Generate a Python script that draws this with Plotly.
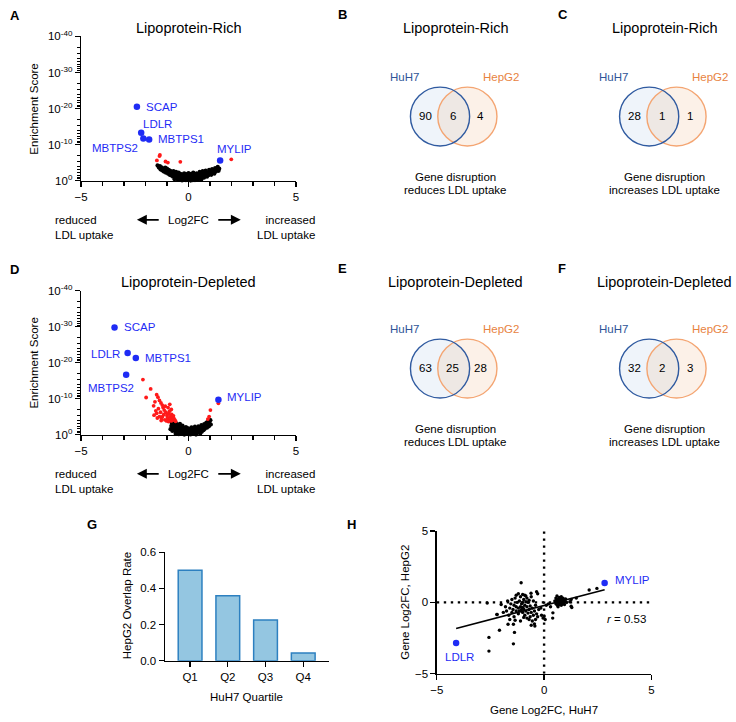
import math
import plotly.graph_objects as go

W, H = 736, 722
FONT = "Liberation Sans, Arial, Helvetica, sans-serif"
HILITE = "#1f2cf5"
RED = "#ff1a1a"

# ---------------- DATA ----------------
# Panel A: Lipoprotein-Rich volcano (x = Log2FC, y = -log10 enrichment score)
a_genes = ["SCAP", "LDLR", "MBTPS2", "MBTPS1", "MYLIP"]
a_gene_x = [-2.4, -2.2, -2.1, -1.83, 1.47]
a_gene_y = [20.5, 13.3, 11.7, 11.4, 5.6]
a_hit_x = [-1.33, -1.35, -1.47, -1.07, -0.96, -0.38, 1.99]
a_hit_y = [7.1, 6.8, 5.6, 5.3, 5.0, 5.2, 5.9]
a_other = [
    (-1.44, 4.2), (-1.38, 3.6), (-1.33, 4.0), (-1.30, 3.1), (-1.25, 3.7), (-1.22, 2.8), (-1.18, 3.3),
    (-1.15, 2.5), (-1.12, 3.0), (-1.08, 3.6), (-1.05, 2.2), (-1.02, 2.9), (-1.0, 3.3), (-0.97, 2.5),
    (-0.95, 1.9), (-0.92, 3.0), (-0.9, 2.2), (-0.88, 1.6), (-0.85, 2.7), (-0.82, 2.0), (-0.8, 1.4),
    (-0.78, 2.4), (-0.75, 1.8), (-0.72, 1.1), (-0.7, 2.6), (-0.68, 1.5), (-0.65, 2.1), (-0.62, 0.9),
    (-0.6, 1.7), (-0.58, 2.4), (-0.55, 1.2), (-0.52, 0.6), (-0.5, 1.9), (-0.48, 1.0), (-0.46, 2.2),
    (-0.44, 0.4), (-0.42, 1.5), (-0.4, 0.8), (-0.38, 1.9), (-0.35, 0.3), (-0.33, 1.2), (-0.3, 0.6),
    (-0.28, 1.7), (-0.25, 0.2), (-0.23, 1.0), (-0.2, 2.0), (-0.18, 0.5), (-0.15, 1.4), (-0.12, 0.1),
    (-0.1, 0.8), (-0.08, 1.8), (-0.05, 0.3), (-0.03, 1.1), (0.0, 0.6), (0.0, 2.1), (0.03, 0.2),
    (0.05, 1.5), (0.08, 0.9), (0.1, 0.4), (0.12, 1.9), (0.15, 0.7), (0.18, 1.2), (0.2, 0.1),
    (0.22, 2.2), (0.25, 0.5), (0.28, 1.6), (0.3, 0.9), (0.33, 0.3), (0.35, 1.3), (0.38, 2.0),
    (0.4, 0.7), (0.42, 1.1), (0.45, 0.2), (0.48, 1.7), (0.5, 0.9), (0.52, 2.4), (0.55, 1.3),
    (0.58, 0.6), (0.6, 1.9), (0.63, 1.0), (0.66, 2.6), (0.7, 1.5), (0.72, 0.8), (0.75, 2.1),
    (0.78, 1.2), (0.8, 2.8), (0.83, 1.7), (0.86, 1.1), (0.9, 2.3), (0.93, 1.5), (0.96, 3.0),
    (1.0, 2.0), (1.03, 2.6), (1.06, 1.6), (1.1, 3.2), (1.13, 2.2), (1.17, 2.8), (1.2, 1.9),
    (1.24, 3.5), (1.28, 2.5), (1.32, 3.0), (1.36, 3.8), (1.4, 2.7), (1.43, 3.3),
    (-0.3, 0.05), (-0.1, 0.3), (0.1, 0.0), (0.3, 0.15), (-0.5, 0.3), (0.6, 0.3), (-0.65, 0.4),
]

# Panel D: Lipoprotein-Depleted volcano
d_genes = ["SCAP", "LDLR", "MBTPS1", "MBTPS2", "MYLIP"]
d_gene_x = [-3.44, -2.83, -2.45, -2.9, 1.39]
d_gene_y = [29.8, 22.7, 21.3, 16.6, 9.7]
d_hits = [
    (-2.12, 15.3), (-1.76, 12.7), (-1.97, 10.3), (-1.48, 11.1), (-1.42, 10.4), (-1.56, 9.1),
    (-1.35, 9.5), (-1.62, 8.0), (-1.28, 8.8), (-1.48, 5.9), (-1.4, 7.2), (-1.22, 8.2),
    (-1.13, 6.8), (-0.87, 8.4), (-0.8, 7.0), (-1.3, 6.2), (-1.21, 5.0), (-1.15, 5.6),
    (-1.1, 4.1), (-1.05, 6.2), (-1.0, 5.3), (-0.98, 4.6), (-0.95, 7.5), (-0.92, 5.8),
    (-0.9, 4.0), (-0.88, 6.5), (-0.85, 5.0), (-0.82, 4.4), (-0.78, 5.6), (-0.75, 4.8),
    (-0.72, 4.0), (-0.7, 5.2), (-0.68, 4.5), (-0.64, 4.1), (-0.6, 3.7), (-1.25, 4.4),
    (-1.35, 5.0), (-1.18, 7.5), (-1.02, 3.8), (-0.93, 3.6), (-0.8, 3.8),
    (-1.52, 6.6), (-1.45, 4.6), (-1.6, 5.4), (-1.08, 7.9), (-1.27, 3.9),
    (1.02, 6.8), (0.96, 5.0), (0.9, 4.3), (1.39, 8.7),
]
d_other = [
    (-0.84, 1.5), (-0.8, 2.4), (-0.78, 3.2), (-0.75, 1.0), (-0.72, 2.0), (-0.7, 2.9), (-0.68, 3.6),
    (-0.65, 1.6), (-0.62, 2.5), (-0.6, 0.8), (-0.58, 3.1), (-0.55, 1.9), (-0.52, 1.2), (-0.5, 2.6),
    (-0.48, 0.5), (-0.46, 1.7), (-0.44, 2.2), (-0.42, 1.0), (-0.4, 3.0), (-0.38, 0.3), (-0.36, 1.4),
    (-0.34, 2.0), (-0.32, 0.7), (-0.3, 1.6), (-0.28, 2.5), (-0.26, 0.2), (-0.24, 1.1), (-0.22, 1.9),
    (-0.2, 0.5), (-0.18, 1.4), (-0.16, 0.1), (-0.14, 0.9), (-0.12, 2.1), (-0.1, 0.4), (-0.08, 1.3),
    (-0.06, 0.7), (-0.04, 1.8), (-0.02, 0.2), (0.0, 1.0), (0.02, 0.5), (0.04, 1.6), (0.06, 0.1),
    (0.08, 0.8), (0.1, 1.3), (0.12, 0.3), (0.14, 2.0), (0.16, 0.6), (0.18, 1.1), (0.2, 0.2),
    (0.22, 1.7), (0.24, 0.9), (0.26, 0.4), (0.28, 1.4), (0.3, 2.2), (0.32, 0.7), (0.34, 1.1),
    (0.36, 0.2), (0.38, 1.8), (0.4, 0.9), (0.42, 1.4), (0.44, 0.5), (0.46, 2.3), (0.48, 1.0),
    (0.5, 1.6), (0.52, 0.6), (0.55, 2.0), (0.58, 1.2), (0.6, 2.6), (0.62, 0.8), (0.65, 1.7),
    (0.68, 2.3), (0.7, 1.2), (0.73, 2.9), (0.76, 1.6), (0.8, 2.2), (0.83, 3.3), (0.86, 1.9),
    (0.9, 2.7), (0.92, 3.8), (0.95, 2.3), (0.98, 3.2), (1.02, 4.0), (1.04, 2.8),
    (-0.45, 0.1), (-0.2, 0.0), (0.1, 0.05), (0.35, 0.0), (0.55, 0.3), (-0.6, 0.2),
]

volcano_titles = ["Lipoprotein-Rich", "Lipoprotein-Depleted"]
y_tick_exponents = [0, -10, -20, -30, -40]

# Venn panels B, C, E, F
venn_letters = ["B", "C", "E", "F"]
venn_titles = ["Lipoprotein-Rich", "Lipoprotein-Rich", "Lipoprotein-Depleted", "Lipoprotein-Depleted"]
venn_huh7_only = [90, 28, 63, 32]
venn_both = [6, 1, 25, 2]
venn_hepg2_only = [4, 1, 28, 3]
venn_effect = ["reduces", "increases", "reduces", "increases"]

# Panel G
quartiles = ["Q1", "Q2", "Q3", "Q4"]
overlap_rate = [0.50, 0.36, 0.225, 0.043]

# Panel H
h_points = [
    (-1.8, -0.3), (-1.75, -0.6), (-1.7, 0.1), (-1.65, -0.9), (-1.6, -0.4), (-1.55, -0.1), (-1.5, -0.7),
    (-1.5, 0.2), (-1.45, -0.5), (-1.4, -1.0), (-1.4, -0.2), (-1.35, 0.3), (-1.3, -0.6), (-1.3, -0.3),
    (-1.25, 0.0), (-1.2, -0.8), (-1.2, -0.4), (-1.15, 0.1), (-1.15, -0.6), (-1.1, -0.3), (-1.1, 0.4),
    (-1.05, -0.5), (-1.05, -0.1), (-1.0, -0.7), (-1.0, 0.0), (-1.0, -0.35), (-0.95, 0.2), (-0.95, -0.45),
    (-0.9, -0.2), (-0.9, 0.5), (-0.9, -0.9), (-0.85, 0.05), (-0.85, -0.6), (-0.8, 0.3), (-0.8, -0.3),
    (-0.8, -1.1), (-0.75, 0.0), (-0.75, -0.75), (-0.7, 0.15), (-0.7, -0.5), (-0.65, -1.0), (-0.65, -0.25),
    (-0.6, -0.7), (-0.6, 0.4), (-0.55, -1.3), (-0.55, -0.4), (-0.5, -0.9), (-0.5, 0.1), (-0.45, -1.5),
    (-0.45, -0.6), (-0.4, -1.2), (-0.4, -0.2), (-0.35, -0.8), (-0.3, -1.0), (-0.3, 0.6), (-0.25, -0.5),
    (-1.3, 0.5), (-1.6, -1.2), (-1.35, -1.25), (-1.2, 0.6), (-1.0, 0.55), (-0.85, 0.45), (-1.1, -1.3),
    (-0.95, -1.05), (-0.7, -1.2), (-2.0, -0.15), (-2.2, -0.85), (-1.9, -0.7),
    (-0.12, -0.9), (-0.05, -1.1), (0.0, -0.95), (0.05, -1.2), (-0.15, -0.4), (0.1, -0.2), (0.2, -0.1),
    (0.3, -0.3), (0.4, -1.1), (0.41, -0.73),
    (0.5, 0.1), (0.55, -0.1), (0.55, 0.3), (0.6, 0.0), (0.6, 0.45), (0.62, -0.2), (0.65, 0.2),
    (0.68, 0.0), (0.7, 0.35), (0.7, -0.15), (0.72, 0.1), (0.75, 0.25), (0.75, -0.05), (0.78, 0.15),
    (0.8, 0.4), (0.8, -0.2), (0.82, 0.05), (0.85, 0.2), (0.85, -0.1), (0.88, 0.3), (0.9, 0.0),
    (0.92, 0.15), (0.95, -0.15), (0.98, 0.1), (1.0, 0.25), (1.05, 0.0), (0.65, -0.3), (0.58, 0.15),
    (-1.07, 1.37), (-2.65, -0.05), (-2.19, -0.85), (-1.68, -1.53), (-1.43, -1.53), (-2.08, -1.95),
    (-1.38, -2.1), (-2.57, -2.45), (-1.43, -2.9), (-2.57, -3.41), (-0.43, -1.65), (-0.35, 0.75),
    (1.26, 0.2), (1.26, -0.27), (1.29, -0.36), (1.5, 0.3), (2.1, 0.87), (2.46, 0.98), (1.2, 0.05),
    (-0.6, -1.6), (-0.61, 0.64),
]
h_genes = ["MYLIP", "LDLR"]
h_gene_x = [2.82, -4.1]
h_gene_y = [1.35, -2.84]
fit_slope = 0.392
fit_intercept = -0.215
r_value = 0.53

# ---------------- helpers ----------------
def px(x):
    return x / W


def py(y):
    return 1 - y / H


annotations = []
shapes = []


def text(x, y, s, size=11.5, color="black", xanchor="center", yanchor="middle", angle=0, align="center"):
    annotations.append(dict(x=px(x), y=py(y), xref="paper", yref="paper", text=s, showarrow=False,
                            xanchor=xanchor, yanchor=yanchor, textangle=angle, align=align,
                            font=dict(family=FONT, size=size, color=color)))


def axis(**kw):
    base = dict(showline=True, linecolor="black", linewidth=1.3, ticks="outside", ticklen=5,
                tickwidth=1.3, tickcolor="black", showgrid=False, zeroline=False, fixedrange=True,
                tickfont=dict(family=FONT, size=11.5, color="black"))
    base.update(kw)
    return base


fig = go.Figure()

# ---------------- Volcano panels A & D ----------------
minor_y = [10 * n + 10 - 10 * math.log10(k) for n in range(4) for k in range(2, 10)]
volc_ticktext = ["10<sup>%d</sup>" % e for e in y_tick_exponents]
volc_tickvals = [-e for e in y_tick_exponents]

a_label_style = {"SCAP": ("left", 7, 0), "LDLR": ("center", 16, 9), "MBTPS2": ("right", -3, -10),
                 "MBTPS1": ("left", 7, 1), "MYLIP": ("center", 14, 11)}
d_label_style = {"SCAP": ("left", 7, 0), "LDLR": ("right", -6, -1), "MBTPS1": ("left", 7, 0),
                 "MBTPS2": ("center", -15, -13), "MYLIP": ("left", 7, 3)}

volcanoes = [
    ("x", "y", [p[0] for p in a_other], [p[1] for p in a_other], a_hit_x, a_hit_y,
     a_genes, a_gene_x, a_gene_y, a_label_style, 0, "A"),
    ("x2", "y2", [p[0] for p in d_other], [p[1] for p in d_other], [p[0] for p in d_hits],
     [p[1] for p in d_hits], d_genes, d_gene_x, d_gene_y, d_label_style, 259, "D"),
]
for i, (xa, ya, ox, oy, hx, hy, gn, gx, gy, lstyle, off, letter) in enumerate(volcanoes):
    fig.add_trace(go.Scatter(x=ox, y=oy, mode="markers", xaxis=xa, yaxis=ya, cliponaxis=False,
                             marker=dict(size=4.2, color="black"), hoverinfo="skip"))
    fig.add_trace(go.Scatter(x=hx, y=hy, mode="markers", xaxis=xa, yaxis=ya, cliponaxis=False,
                             marker=dict(size=3.8, color=RED), hoverinfo="skip"))
    fig.add_trace(go.Scatter(x=gx, y=gy, mode="markers", xaxis=xa, yaxis=ya, cliponaxis=False,
                             marker=dict(size=6.5, color=HILITE), hoverinfo="skip"))
    for g, x, y in zip(gn, gx, gy):
        anc, xs, ys = lstyle[g]
        annotations.append(dict(x=x, y=y, xref=xa, yref=ya, text=g, showarrow=False, xanchor=anc,
                                yanchor="middle", xshift=xs, yshift=ys,
                                font=dict(family=FONT, size=11.5, color=HILITE)))
    text(1, 8 + off, "<b>%s</b>" % letter, size=13, xanchor="left")
    text(184, 20 + off, volcano_titles[i], size=14.5)
    text(27, 103 + off, "Enrichment Score", size=11.5, angle=-90)
    text(46.7, 223.5 + off, "reduced<br>LDL uptake", xanchor="left", align="left")
    text(314, 223.5 + off, "increased<br>LDL uptake", xanchor="right", align="right")
    text(184.3, 216 + off, "Log2FC")
    for head, tail in ((131.7, 155), (237, 213)):
        annotations.append(dict(x=px(head), y=py(216 + off), xref="paper", yref="paper", text="",
                                showarrow=True, ax=tail - head, ay=0, arrowhead=2, arrowsize=1.1,
                                arrowwidth=1.8, arrowcolor="black", standoff=0))

xaxis_volc = dict(range=[-5, 5], tickmode="array", tickvals=[-5, 0, 5],
                  minor=dict(tickmode="array", tickvals=[-4, -3, -2, -1, 1, 2, 3, 4], ticks="outside",
                             ticklen=4, tickwidth=1.1, tickcolor="black", showgrid=False))
yaxis_volc = dict(range=[0, 40], tickmode="array", tickvals=volc_tickvals, ticktext=volc_ticktext,
                  minor=dict(tickmode="array", tickvals=minor_y, ticks="outside", ticklen=3,
                             tickwidth=1, tickcolor="black", showgrid=False))

# ---------------- Venn panels ----------------
R = 30
for i in range(4):
    dx = 212 if i % 2 else 0
    dy = 257 if i >= 2 else 0
    cxa, cxb, cy = 439 + dx, 466.7 + dx, 110.7 + dy
    shapes.append(dict(type="circle", xref="paper", yref="paper", x0=px(cxa - R), x1=px(cxa + R),
                       y0=py(cy + R), y1=py(cy - R), fillcolor="#eff4fa", line=dict(width=0)))
    shapes.append(dict(type="circle", xref="paper", yref="paper", x0=px(cxb - R), x1=px(cxb + R),
                       y0=py(cy + R), y1=py(cy - R), fillcolor="rgba(240,170,120,0.17)",
                       line=dict(color="#f4a572", width=1.4)))
    shapes.append(dict(type="circle", xref="paper", yref="paper", x0=px(cxa - R), x1=px(cxa + R),
                       y0=py(cy + R), y1=py(cy - R), fillcolor="rgba(0,0,0,0)",
                       line=dict(color="#2f5aa0", width=1.4)))
    text(334 + (561 - 338) * (i % 2), 7 + (258.7 if i >= 2 else 0), "<b>%s</b>" % venn_letters[i],
         size=13, xanchor="left")
    text(455 + dx, 20 + (259 if i >= 2 else 0), venn_titles[i], size=14.5)
    text(402.7 + dx, 70 + dy, "HuH7", size=11.5, color="#2f5597")
    text(501 + dx, 70 + dy, "HepG2", size=11.5, color="#e8833f")
    text(424 + dx, 110 + dy, str(venn_huh7_only[i]))
    text(451.7 + dx, 110 + dy, str(venn_both[i]))
    text(480 + dx, 110 + dy, str(venn_hepg2_only[i]))
    text(455 + dx, 172 + dy, "Gene disruption")
    text(455 + dx, 185.7 + dy, "%s LDL uptake" % venn_effect[i])

# ---------------- Panel G ----------------
fig.add_trace(go.Bar(x=list(range(len(quartiles))), y=overlap_rate, xaxis="x3", yaxis="y3", width=0.63,
                     marker=dict(color="#94c6e1", line=dict(color="#2d80c0", width=1.5)),
                     hoverinfo="skip"))
text(86, 526.7, "<b>G</b>", size=13)
text(121.7, 610, "HepG2 Overlap Rate", angle=-90)
text(243, 702.7, "HuH7 Quartile")

# ---------------- Panel H ----------------
hx = [p[0] for p in h_points]
hy = [p[1] for p in h_points]
shapes.append(dict(type="line", xref="x4", yref="y4", x0=-5, x1=5, y0=0, y1=0,
                   line=dict(color="black", width=2.4, dash="2.4px,4.6px")))
shapes.append(dict(type="line", xref="x4", yref="y4", x0=0, x1=0, y0=-5, y1=5,
                   line=dict(color="black", width=2.4, dash="2.4px,4.6px")))
fig.add_trace(go.Scatter(x=hx, y=hy, mode="markers", xaxis="x4", yaxis="y4", cliponaxis=False,
                         marker=dict(size=3.4, color="black"), hoverinfo="skip"))
all_hx = hx + h_gene_x
fit_x = [min(all_hx), max(all_hx)]
fit_y = [fit_intercept + fit_slope * v for v in fit_x]
fig.add_trace(go.Scatter(x=fit_x, y=fit_y, mode="lines", xaxis="x4", yaxis="y4",
                         line=dict(color="black", width=1.5), hoverinfo="skip"))
fig.add_trace(go.Scatter(x=h_gene_x, y=h_gene_y, mode="markers", xaxis="x4", yaxis="y4",
                         cliponaxis=False, marker=dict(size=6.5, color=HILITE), hoverinfo="skip"))
h_label_style = {"MYLIP": ("left", 8, 3), "LDLR": ("center", 3, -14)}
for g, x, y in zip(h_genes, h_gene_x, h_gene_y):
    anc, xs, ys = h_label_style[g]
    annotations.append(dict(x=x, y=y, xref="x4", yref="y4", text=g, showarrow=False, xanchor=anc,
                            yanchor="middle", xshift=xs, yshift=ys,
                            font=dict(family=FONT, size=11.5, color=HILITE)))
text(650, 622.7, "<i>r</i> = %.2f" % r_value, xanchor="right")
text(349, 526.7, "<b>H</b>", size=13)
text(404, 606, "Gene Log2FC, HepG2", angle=-90)
text(544.5, 716, "Gene Log2FC, HuH7")

fig.update_layout(
    width=W, height=H, margin=dict(l=0, r=0, t=0, b=0), paper_bgcolor="white", plot_bgcolor="white",
    showlegend=False, font=dict(family=FONT, size=11.5, color="black"),
    xaxis=axis(domain=[px(75), px(293)], anchor="y", **xaxis_volc),
    yaxis=axis(domain=[py(176), py(29)], anchor="x", **yaxis_volc),
    xaxis2=axis(domain=[px(75), px(293)], anchor="y2", **xaxis_volc),
    yaxis2=axis(domain=[py(435), py(288.3)], anchor="x2", **yaxis_volc),
    xaxis3=axis(domain=[px(160), px(326.7)], anchor="y3", range=[-0.67, 3.69], tickmode="array",
                tickvals=list(range(len(quartiles))), ticktext=quartiles),
    yaxis3=axis(domain=[py(665.7), py(555)], anchor="x3", range=[0, 0.6], tickmode="array",
                tickvals=[0, 0.2, 0.4, 0.6], ticktext=["0.0", "0.2", "0.4", "0.6"]),
    xaxis4=axis(domain=[px(435.7), px(653.3)], anchor="y4", range=[-5, 5], tickmode="array",
                tickvals=[-5, 0, 5]),
    yaxis4=axis(domain=[py(679), py(533.3)], anchor="x4", range=[-5, 5], tickmode="array",
                tickvals=[-5, 0, 5]),
    annotations=annotations,
    shapes=shapes,
    bargap=0,
)

fig.write_html("out.html", config={"displayModeBar": False, "staticPlot": True},
               post_script="document.body.style.margin='0px';document.body.style.overflow='hidden';")
